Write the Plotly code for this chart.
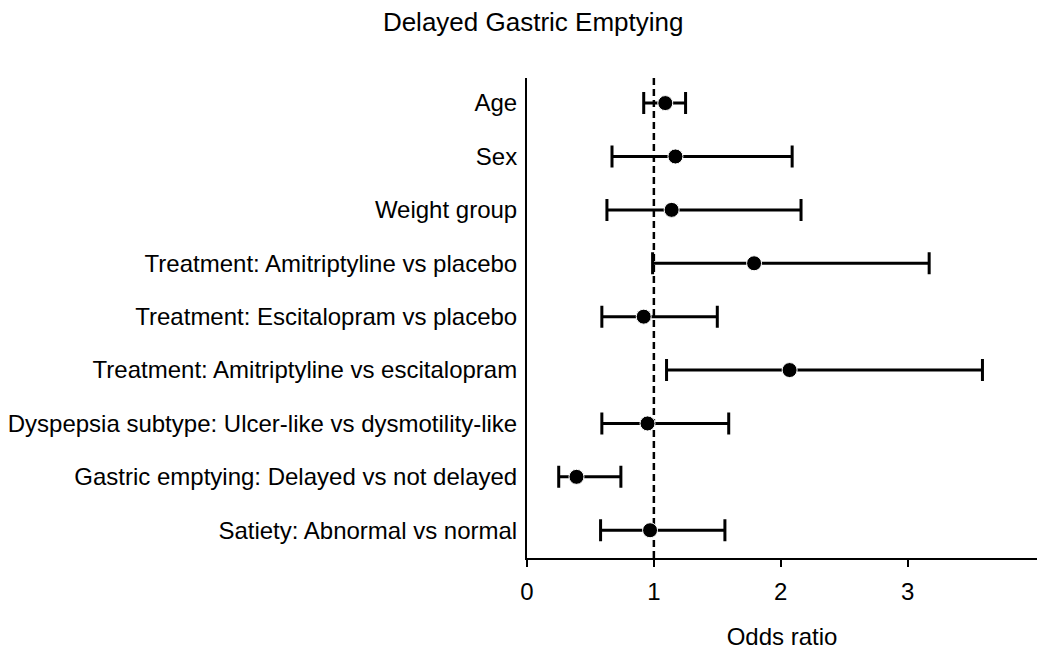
import plotly.graph_objects as go

categories = [
    "Age",
    "Sex",
    "Weight group",
    "Treatment: Amitriptyline vs placebo",
    "Treatment: Escitalopram vs placebo",
    "Treatment: Amitriptyline vs escitalopram",
    "Dyspepsia subtype: Ulcer-like vs dysmotility-like",
    "Gastric emptying: Delayed vs not delayed",
    "Satiety: Abnormal vs normal",
]
odds_ratio = [1.09, 1.17, 1.14, 1.79, 0.92, 2.07, 0.95, 0.39, 0.97]
ci_lower = [0.92, 0.67, 0.63, 0.99, 0.59, 1.10, 0.59, 0.25, 0.58]
ci_upper = [1.25, 2.09, 2.16, 3.17, 1.50, 3.59, 1.59, 0.74, 1.56]
x_ticks = [0, 1, 2, 3]

err_plus = [u - o for u, o in zip(ci_upper, odds_ratio)]
err_minus = [o - l for o, l in zip(odds_ratio, ci_lower)]

FONT = "Liberation Sans, Arial, sans-serif"

fig = go.Figure()
fig.add_trace(go.Scatter(
    x=odds_ratio,
    y=categories,
    mode="markers",
    marker=dict(size=15, color="black", line=dict(color="white", width=1)),
    error_x=dict(type="data", symmetric=False, array=err_plus, arrayminus=err_minus,
                 color="black", thickness=3, width=11),
    showlegend=False,
))

fig.add_shape(type="line", xref="x", yref="paper", x0=1, x1=1, y0=0, y1=1,
              line=dict(color="black", width=2.5, dash="7px,4px"), layer="below")

# page body has an 8px margin, so the figure is shifted by 8px right and down
fig.update_layout(
    width=1042, height=651,
    margin=dict(l=519, r=13, t=70, b=101),
    plot_bgcolor="white", paper_bgcolor="white",
    font=dict(family=FONT, size=24, color="black"),
    title=dict(text="Delayed Gastric Emptying", x=0.504, xanchor="center",
               y=0.978, yanchor="middle", font=dict(family=FONT, size=26, color="black")),
    xaxis=dict(range=[0, 4.02], tickvals=x_ticks, ticks="outside", ticklen=7, tickwidth=2,
               tickcolor="black", showline=True, linecolor="black", linewidth=2,
               showgrid=False, zeroline=False, tickfont=dict(size=24), automargin=False,
               ticklabelstandoff=4,
               title=dict(text="Odds ratio", font=dict(size=24), standoff=24)),
    yaxis=dict(categoryorder="array", categoryarray=categories, autorange=False,
               range=[8.52, -0.47], showline=True, linecolor="black", linewidth=2,
               showgrid=False, zeroline=False, ticks="", ticklabelstandoff=3,
               tickfont=dict(size=24), automargin=False),
)

fig.write_html("out.html")
